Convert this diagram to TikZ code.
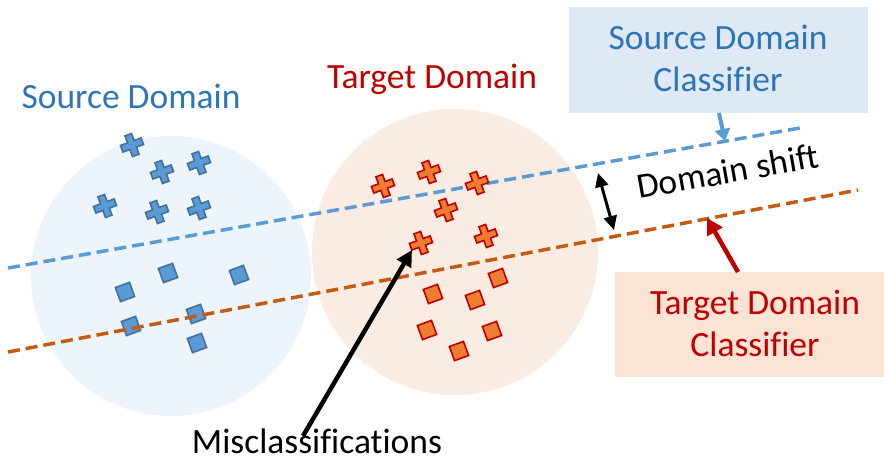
\documentclass[tikz,border=0pt]{standalone}
\usepackage{fontspec}
\setmainfont[Ligatures=NoCommon]{Carlito}
\usetikzlibrary{arrows.meta}
\definecolor{srcfill}{HTML}{EDF4FB}
\definecolor{tgtfill}{HTML}{FBECE3}
\definecolor{srcbox}{HTML}{DEE9F5}
\definecolor{tgtbox}{HTML}{FBE4D6}
\definecolor{bluel}{HTML}{5B9BD5}
\definecolor{bluet}{HTML}{2E75B6}
\definecolor{bluedk}{HTML}{41719C}
\definecolor{orl}{HTML}{C55A11}
\definecolor{orf}{HTML}{ED7D31}
\definecolor{redt}{HTML}{C00000}
\tikzset{
  big/.style={font=\fontsize{35.5}{42}\selectfont},
  dashline/.style={line width=3.5pt, dash pattern=on 12pt off 6pt},
  srcmark/.style={fill=bluel, draw=bluedk, line width=1.6pt, line join=miter},
  tgtmark/.style={fill=orf, draw=redt, line width=1.6pt, line join=miter},
  pics/plusmark/.style={code={
    \draw[rotate=20,#1] (-3.5,-11)--(3.5,-11)--(3.5,-3.5)--(11,-3.5)--(11,3.5)--(3.5,3.5)--(3.5,11)--(-3.5,11)--(-3.5,3.5)--(-11,3.5)--(-11,-3.5)--(-3.5,-3.5)--cycle;}},
  pics/sqmark/.style={code={
    \draw[rotate=20,#1] (-7.5,-7.5) rectangle (7.5,7.5);}},
}
\begin{document}
\begin{tikzpicture}[x=1pt,y=-1pt]
\useasboundingbox (0,0) rectangle (884,461);
% domains
\fill[srcfill] (171,276) circle (140);
\fill[tgtfill] (455,252) circle (143);
% source markers
\foreach \p in {(132,145),(162,172),(199,163),(105,206),(157,212),(199,208)}
  \pic at \p {plusmark=srcmark};
\foreach \p in {(168,273),(239,275),(125,292),(131,326),(196,314),(197,343)}
  \pic at \p {sqmark=srcmark};
% classifier lines
\coordinate (b0) at (8,268);
\coordinate (b1) at (800,128);
\coordinate (o0) at (8,352);
\coordinate (o1) at (858,190);
\draw[dashline, bluel] (b0) -- (b1);
\draw[dashline, orl] (o0) -- (o1);
% target markers
\foreach \p in {(383,186),(429,172),(477,183),(446,210),(486,236),(421,243)}
  \pic at \p {plusmark=tgtmark};
\foreach \p in {(498,278),(433,294),(475,300),(427,330),(492,331),(459,351)}
  \pic at \p {sqmark=tgtmark};
% labels
\node[big, text=bluet, anchor=base] (srclab) at (131,108) {Source Domain};
\node[big, text=redt, anchor=base] (tgtlab) at (432,88) {Target Domain};
\node[big, anchor=base, inner sep=0pt] (mis) at (317,453) {Misclassifications};
\node[big, anchor=base, rotate=10, inner sep=0pt] (shift) at (730,183) {Domain shift};
% classifier boxes
\node[fill=srcbox, minimum width=299pt, minimum height=106pt, inner sep=0pt] (sbox) at (718.5,60) {};
\node[big, text=bluet, align=center] (stext) at (718,58) {Source Domain\\Classifier};
\node[fill=tgtbox, minimum width=269pt, minimum height=105pt, inner sep=0pt] (tbox) at (749.5,324.5) {};
\node[big, text=redt, align=center] (ttext) at (755,323) {Target Domain\\Classifier};
% arrows
\coordinate (shit) at (725,141);
\coordinate (ohit) at (707,218);
\coordinate (stail) at (719,113);
\coordinate (ttail) at (738,272);
\coordinate (mtip) at (412,250);
\coordinate (mtail) at (303,436);
\coordinate (dtop) at (598,173);
\coordinate (dbot) at (614,230);
\draw[bluel, line width=4pt, -{Triangle[length=12pt,width=15pt]}] (stail) -- (shit);
\draw[redt, line width=4.5pt, -{Triangle[length=16pt,width=17pt]}] (ttail) -- (ohit);
\draw[black, line width=4.5pt, -{Triangle[length=16pt,width=16pt]}] (mtail) -- (mtip);
\draw[black, line width=3pt, {Triangle[length=14pt,width=13pt]}-{Triangle[length=14pt,width=13pt]}] (dtop) -- (dbot);
\end{tikzpicture}
\end{document}
